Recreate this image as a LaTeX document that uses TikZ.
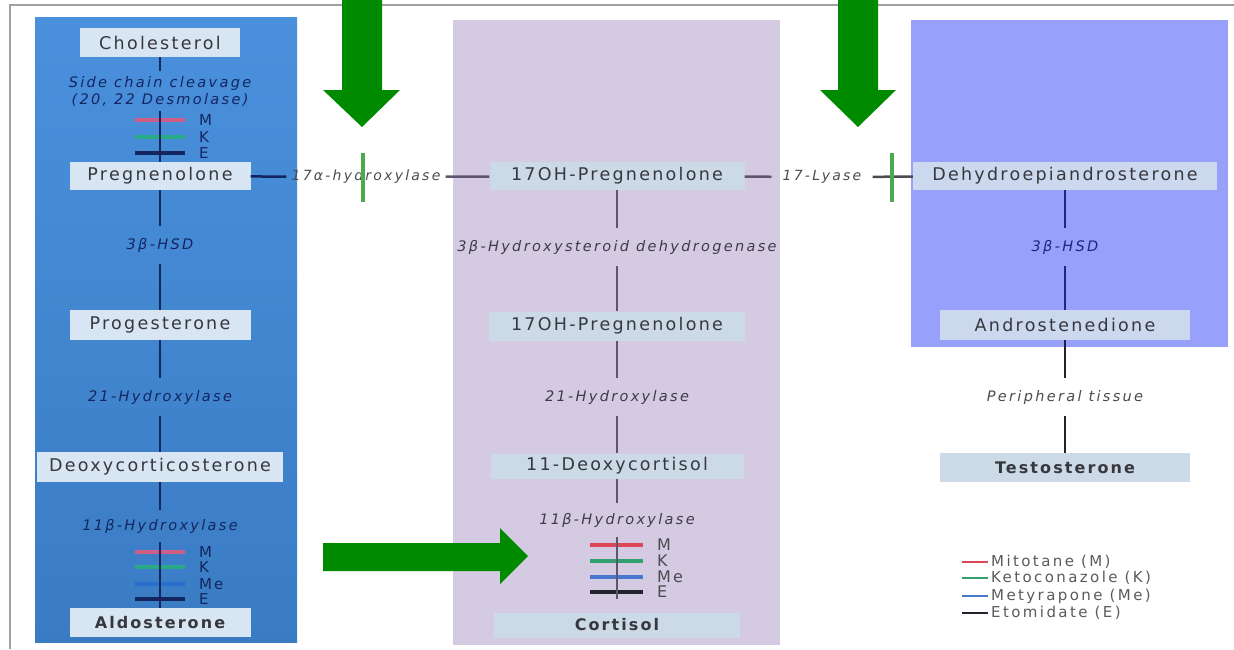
\documentclass[tikz,border=0pt]{standalone}
\usepackage{fontspec}
\setmainfont{DejaVu Sans}
\newfontfamily\boxfont{DejaVu Sans}[LetterSpace=13]
\newfontfamily\enzfont{DejaVu Sans}[LetterSpace=16]

\definecolor{lpanTop}{RGB}{74,144,220}
\definecolor{lpanBot}{RGB}{58,124,196}
\definecolor{midpan}{RGB}{212,203,226}
\definecolor{rpan}{RGB}{151,160,250}
\definecolor{boxL}{RGB}{216,229,242}
\definecolor{boxM}{RGB}{204,218,232}
\definecolor{boxR}{RGB}{204,216,238}
\definecolor{txtBox}{RGB}{55,55,62}
\definecolor{navy}{RGB}{20,38,95}
\definecolor{midline}{RGB}{95,85,110}
\definecolor{midtxt}{RGB}{62,60,72}
\definecolor{rnavy}{RGB}{30,38,130}
\definecolor{arrowgreen}{RGB}{0,138,0}
\definecolor{blockgreen}{RGB}{75,170,75}
\definecolor{inhM}{RGB}{222,72,86}
\definecolor{inhK}{RGB}{50,160,110}
\definecolor{inhMe}{RGB}{70,120,205}
\definecolor{inhE}{RGB}{35,35,45}
\definecolor{inhMl}{RGB}{205,95,135}
\definecolor{inhKl}{RGB}{40,170,135}
\definecolor{inhMel}{RGB}{40,110,205}
\definecolor{framegray}{RGB}{160,160,160}
\definecolor{legtxt}{RGB}{90,90,95}
\definecolor{greytxt}{RGB}{75,75,80}

\tikzset{
  sbox/.style={rectangle, inner sep=0pt, minimum height=29pt, text=txtBox,
    font=\boxfont\fontsize{17.5}{19}\selectfont},
  boldbox/.style={font=\boxfont\bfseries\fontsize{16}{18}\selectfont},
  enz/.style={inner xsep=3pt, inner ysep=12pt,
    font=\enzfont\itshape\fontsize{14.5}{16}\selectfont},
  inhlbl/.style={anchor=west, inner sep=0pt, font=\boxfont\fontsize{15}{16}\selectfont},
  inhlblm/.style={anchor=west, inner sep=0pt, text=greytxt, font=\boxfont\fontsize{16}{17}\selectfont},
  legtext/.style={anchor=west, inner sep=0pt, text=legtxt, font=\enzfont\fontsize{15}{16}\selectfont},
  lline/.style={navy, line width=2.5pt},
  mline/.style={midline, line width=2.5pt},
  rline/.style={rnavy, line width=2.5pt},
  inhbar/.style={line width=3.4pt},
  bigarrow/.style={fill=arrowgreen},
}

\begin{document}
\begin{tikzpicture}[x=1pt, y=-1pt]
\useasboundingbox (0,0) rectangle (1234,649);

% outer frame
\draw[framegray, line width=1.2pt] (10,649) -- (10,5) -- (1234,5);

% the three compartments
\fill[top color=lpanTop, bottom color=lpanBot] (35,17) rectangle (297,642);
\fill[midpan] (453,20) rectangle (780,645);
\fill[rpan] (911,20) rectangle (1228,347);

% ---------- left column: mineralocorticoid pathway ----------
\node[sbox, fill=boxL, minimum width=160pt] (chol) at (160,42.5) {Cholesterol};
\node[sbox, fill=boxL, minimum width=181pt, minimum height=28pt] (preg) at (160,176) {Pregnenolone};
\node[sbox, fill=boxL, minimum width=181pt, minimum height=30pt] (prog) at (160,325) {Progesterone};
\node[sbox, fill=boxL, minimum width=246pt, minimum height=30pt] (doc) at (160,467) {Deoxycorticosterone};
\node[sbox, boldbox, fill=boxL, minimum width=181pt] (aldo) at (160,622.5) {Aldosterone};

\node[enz, text=navy, align=center, inner ysep=5pt, font=\enzfont\itshape\fontsize{14.5}{17}\selectfont] (scc) at (160,91) {Side chain cleavage\\(20, 22 Desmolase)};
\node[enz, text=navy] (hsdL) at (160,245) {3β-HSD};
\node[enz, text=navy] (h21L) at (160,397) {21-Hydroxylase};
\node[enz, text=navy, inner ysep=9pt] (h11L) at (160,526) {11β-Hydroxylase};

% inhibitor bars on the left pathway
\foreach \y/\c/\t in {120/inhMl/M, 137/inhKl/K, 153/navy/E}{
  \draw[inhbar, \c] (135,\y) -- (185,\y);
  \node[inhlbl, text=navy] (sccinh\t) at (199,\y) {\t};
}
\foreach \y/\c/\t in {552/inhMl/M, 567/inhKl/K, 584/inhMel/Me, 599/navy/E}{
  \draw[inhbar, \c] (135,\y) -- (185,\y);
  \node[inhlbl, text=navy] (aldinh\t) at (199,\y) {\t};
}

\draw[lline] (chol) -- (scc);
\draw[lline] (scc) -- (preg);
\draw[lline] (preg) -- (hsdL);
\draw[lline] (hsdL) -- (prog);
\draw[lline] (prog) -- (h21L);
\draw[lline] (h21L) -- (doc);
\draw[lline] (doc) -- (h11L);
\draw[lline] (h11L) -- (aldo);

% ---------- middle column: glucocorticoid pathway ----------
\node[sbox, fill=boxM, minimum width=255pt, minimum height=28pt] (ohp1) at (617,176) {17OH-Pregnenolone};
\node[sbox, fill=boxM, minimum width=256pt] (ohp2) at (617,326) {17OH-Pregnenolone};
\node[sbox, fill=boxM, minimum width=253pt, minimum height=25pt] (doxc) at (617,466) {11-Deoxycortisol};
\node[sbox, boldbox, fill=boxM, minimum width=246pt, minimum height=25pt] (cort) at (617,625) {Cortisol};

\node[enz, text=midtxt] (hsdM) at (617,247) {3β-Hydroxysteroid dehydrogenase};
\node[enz, text=midtxt] (h21M) at (617,397) {21-Hydroxylase};
\node[enz, text=midtxt, inner ysep=10pt] (h11M) at (617,520) {11β-Hydroxylase};

\foreach \y/\c/\t in {545/inhM/M, 561/inhK/K, 577/inhMe/Me, 592/inhE/E}{
  \draw[inhbar, \c] (590,\y) -- (643,\y);
  \node[inhlblm] (corinh\t) at (657,\y) {\t};
}

\draw[mline] (ohp1) -- (hsdM);
\draw[mline] (hsdM) -- (ohp2);
\draw[mline] (ohp2) -- (h21M);
\draw[mline] (h21M) -- (doxc);
\draw[mline] (doxc) -- (h11M);
\draw[mline, shorten >=13pt] (h11M) -- (cort);

% ---------- right column: androgen pathway ----------
\node[sbox, fill=boxR, minimum width=304pt, minimum height=28pt] (dhea) at (1065,176) {Dehydroepiandrosterone};
\node[sbox, fill=boxR, minimum width=250pt, minimum height=30pt] (andro) at (1065,325) {Androstenedione};
\node[sbox, boldbox, fill=boxM, minimum width=250pt] (testo) at (1065,467.5) {Testosterone};

\node[enz, text=rnavy] (hsdR) at (1065,247) {3β-HSD};
\node[enz, text=greytxt] (periph) at (1065,397) {Peripheral tissue};

\draw[rline] (dhea) -- (hsdR);
\draw[rline] (hsdR) -- (andro);
\draw[line width=2.5pt, inhE] (andro) -- (periph);
\draw[line width=2.5pt, inhE] (periph) -- (testo);

% ---------- cross links between the columns ----------
\node[enz, text=greytxt, inner xsep=5pt, font=\enzfont\itshape\fontsize{14}{16}\selectfont] (h17) at (366,177) {17α-hydroxylase};
\node[enz, text=greytxt, inner xsep=11pt, font=\enzfont\itshape\fontsize{14}{16}\selectfont] (lyase) at (822,177) {17-Lyase};

\draw[lline] (preg) -- (h17);
\draw[mline] (h17) -- (ohp1);
\draw[mline] (ohp1) -- (lyase);
\draw[line width=2.5pt, greytxt] (lyase) -- (dhea);

% blocks drawn across the two cross links
\coordinate (blkA) at (363,153);
\coordinate (blkB) at (892,153);
\draw[blockgreen, line width=4pt] (blkA) -- ++(0,49);
\draw[blockgreen, line width=4pt] (blkB) -- ++(0,49);

% ---------- green block arrows ----------
\fill[bigarrow] (342,0) -- (382,0) -- (382,90) -- (400,90) -- (362,127)
  -- (323,90) -- (342,90) -- cycle;
\fill[bigarrow] (838,0) -- (878,0) -- (878,90) -- (896,90) -- (858,127)
  -- (820,90) -- (838,90) -- cycle;
\fill[bigarrow] (323,543) -- (500,543) -- (500,528) -- (528,556)
  -- (500,584) -- (500,571) -- (323,571) -- cycle;

% ---------- legend ----------
\foreach \y/\c/\t/\n in {562/inhM/Mitotane (M)/lgM, 578/inhK/Ketoconazole (K)/lgK,
                         596/inhMe/Metyrapone (Me)/lgMe, 613/inhE/Etomidate (E)/lgE}{
  \draw[line width=2.5pt, \c] (962,\y) -- (988,\y);
  \node[legtext] (\n) at (991,\y) {\t};
}
\end{tikzpicture}
\end{document}
